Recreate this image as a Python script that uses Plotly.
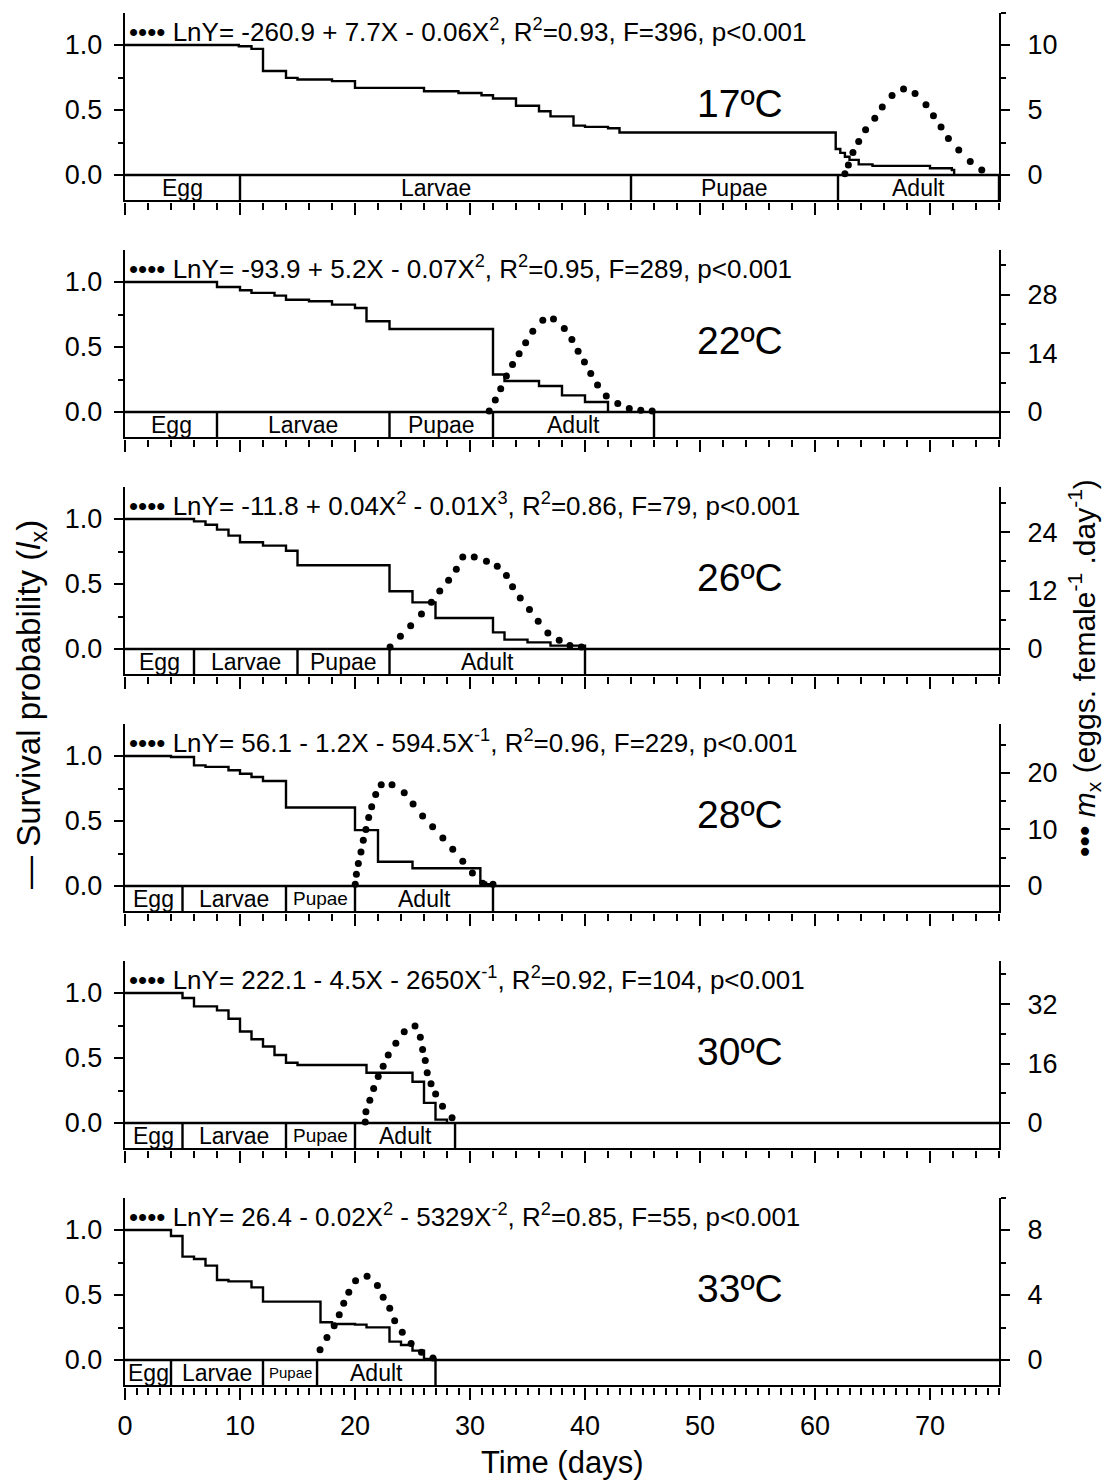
import plotly.graph_objects as go

# ---------------- data ----------------
temps = ["17ºC", "22ºC", "26ºC", "28ºC", "30ºC", "33ºC"]
equations = [
    "LnY= -260.9 + 7.7X - 0.06X<sup>2</sup>, R<sup>2</sup>=0.93, F=396, p&lt;0.001",
    "LnY= -93.9 + 5.2X - 0.07X<sup>2</sup>, R<sup>2</sup>=0.95, F=289, p&lt;0.001",
    "LnY= -11.8 + 0.04X<sup>2</sup> - 0.01X<sup>3</sup>, R<sup>2</sup>=0.86, F=79, p&lt;0.001",
    "LnY= 56.1 - 1.2X - 594.5X<sup>-1</sup>, R<sup>2</sup>=0.96, F=229, p&lt;0.001",
    "LnY= 222.1 - 4.5X - 2650X<sup>-1</sup>, R<sup>2</sup>=0.92, F=104, p&lt;0.001",
    "LnY= 26.4 - 0.02X<sup>2</sup> - 5329X<sup>-2</sup>, R<sup>2</sup>=0.85, F=55, p&lt;0.001",
]
stage_names = ["Egg", "Larvae", "Pupae", "Adult"]

# survival (lx) step curves
lx_days_17 = [0, 9.9, 11, 12, 14, 15, 18, 20, 26, 29, 31, 32, 34, 36, 37, 39, 40, 42, 43, 61.8, 62.2, 62.6, 63, 63.8, 65, 70, 71.9, 72.1]
lx_17 = [1.0, 0.99, 0.97, 0.80, 0.747, 0.735, 0.722, 0.67, 0.644, 0.631, 0.613, 0.588, 0.533, 0.49, 0.451, 0.38, 0.37, 0.36, 0.327, 0.2, 0.17, 0.14, 0.116, 0.082, 0.07, 0.052, 0.039, 0.0]
lx_days_22 = [0, 8, 10, 11, 13, 14, 16, 18, 20, 21, 23, 32, 33, 36, 38, 40, 42]
lx_22 = [1.0, 0.962, 0.936, 0.916, 0.895, 0.864, 0.852, 0.826, 0.8, 0.698, 0.639, 0.289, 0.238, 0.2, 0.128, 0.077, 0.0]
lx_days_26 = [0, 6, 7, 8, 9, 10, 12, 14, 15, 23, 25, 27, 32, 33, 35, 37, 40]
lx_26 = [1.0, 0.982, 0.956, 0.918, 0.872, 0.821, 0.795, 0.756, 0.644, 0.444, 0.359, 0.238, 0.128, 0.072, 0.051, 0.026, 0.0]
lx_days_28 = [0, 4, 6, 7, 9, 10, 11, 12, 14, 20, 22, 25, 30.9, 31.4, 32]
lx_28 = [1.0, 0.992, 0.928, 0.916, 0.89, 0.864, 0.839, 0.808, 0.604, 0.43, 0.187, 0.136, 0.026, 0.013, 0.0]
lx_days_30 = [0, 5, 6, 8, 9, 10, 11, 12, 13, 14, 15, 21, 25, 26, 27, 28]
lx_30 = [1.0, 0.961, 0.897, 0.866, 0.802, 0.704, 0.644, 0.588, 0.523, 0.464, 0.446, 0.387, 0.317, 0.155, 0.026, 0.0]
lx_days_33 = [0, 4, 5, 6, 7, 8, 9, 11, 12, 17, 18, 20, 21, 23, 24, 25, 26, 27]
lx_33 = [1.0, 0.954, 0.795, 0.777, 0.726, 0.615, 0.605, 0.559, 0.449, 0.29, 0.277, 0.272, 0.251, 0.141, 0.115, 0.072, 0.008, 0.0]

# fecundity (mx) dotted curves
mx_days_17 = [62.6, 62.9, 63.3, 63.8, 64.4, 65.2, 65.85, 66.7, 67.7, 68.7, 69.65, 70.3, 70.96, 71.6, 72.5, 73.5, 74.5]
mx_17 = [0.1, 0.77, 1.73, 2.58, 3.48, 4.36, 5.23, 6.11, 6.62, 6.26, 5.41, 4.56, 3.69, 2.81, 1.93, 1.03, 0.39]
mx_days_22 = [31.67, 32.2, 32.67, 33.17, 33.7, 34.27, 34.84, 35.46, 36.33, 37.26, 38.2, 38.86, 39.4, 39.95, 40.5, 41.09, 41.85, 42.85, 43.85, 44.85, 45.84]
mx_22 = [0.25, 2.85, 5.55, 8.56, 11.35, 13.89, 16.49, 19.25, 21.89, 22.2, 19.9, 17.3, 14.51, 11.9, 9.21, 6.42, 3.81, 2.05, 0.81, 0.4, 0.25]
mx_days_26 = [23.05, 23.95, 24.84, 25.78, 26.64, 27.37, 28.14, 28.81, 29.37, 30.37, 31.43, 32.37, 33.17, 33.7, 34.37, 35.17, 35.93, 36.77, 37.76, 38.69, 39.69]
mx_26 = [0.4, 2.6, 4.8, 7.2, 9.6, 11.9, 14.1, 16.4, 18.9, 18.9, 18.0, 17.0, 15.1, 12.8, 10.5, 8.1, 5.7, 3.3, 1.8, 0.7, 0.4]
mx_days_28 = [20.02, 20.12, 20.29, 20.52, 20.72, 20.95, 21.19, 21.45, 21.8, 22.28, 23.22, 24.28, 25.05, 25.88, 26.75, 27.64, 28.5, 29.37, 30.21, 31.1, 32.0]
mx_28 = [0.3, 2.1, 4.0, 6.0, 8.1, 10.0, 12.1, 14.0, 16.2, 17.9, 17.9, 16.5, 14.5, 12.4, 10.5, 8.5, 6.5, 4.4, 2.3, 0.5, 0.3]
mx_days_30 = [20.89, 20.95, 21.29, 21.62, 22.02, 22.45, 22.89, 23.55, 24.28, 25.22, 25.68, 25.88, 26.11, 26.28, 26.61, 27.01, 27.61, 28.44]
mx_30 = [0.3, 3.0, 6.1, 9.3, 12.5, 15.3, 18.3, 21.5, 24.6, 26.1, 23.1, 19.8, 16.8, 13.5, 10.6, 7.8, 4.5, 1.4]
mx_days_33 = [16.96, 17.56, 18.19, 18.63, 19.02, 19.46, 20.05, 21.05, 21.95, 22.45, 23.02, 23.45, 24.11, 24.88, 25.78, 26.78]
mx_33 = [0.63, 1.39, 2.11, 2.79, 3.49, 4.17, 4.88, 5.15, 4.58, 3.86, 3.18, 2.42, 1.70, 1.02, 0.47, 0.12]

# stage boundaries (days): Egg | Larvae | Pupae | Adult
stages_17 = [0, 10, 44, 62, 76]
stages_22 = [0, 8, 23, 32, 46]
stages_26 = [0, 6, 15, 23, 40]
stages_28 = [0, 5, 14, 20, 32]
stages_30 = [0, 5, 14, 20, 28.7]
stages_33 = [0, 4, 12, 16.7, 27]

# right-axis (mx) tick values and mx units per unit of lx
mx_ticks_17 = [0, 5, 10]
mx_ticks_22 = [0, 14, 28]
mx_ticks_26 = [0, 12, 24]
mx_ticks_28 = [0, 10, 20]
mx_ticks_30 = [0, 16, 32]
mx_ticks_33 = [0, 4, 8]
mx_per_lx = [10, 31, 26.7, 23, 35, 8]

lx_ticks = [0, 0.5, 1.0]
lx_ticktext = ["0.0", "0.5", "1.0"]
time_ticks = [0, 10, 20, 30, 40, 50, 60, 70]

panels = [
    (lx_days_17, lx_17, mx_days_17, mx_17, stages_17, mx_ticks_17),
    (lx_days_22, lx_22, mx_days_22, mx_22, stages_22, mx_ticks_22),
    (lx_days_26, lx_26, mx_days_26, mx_26, stages_26, mx_ticks_26),
    (lx_days_28, lx_28, mx_days_28, mx_28, stages_28, mx_ticks_28),
    (lx_days_30, lx_30, mx_days_30, mx_30, stages_30, mx_ticks_30),
    (lx_days_33, lx_33, mx_days_33, mx_33, stages_33, mx_ticks_33),
]

# ---------------- styling / layout ----------------
W, H = 1105, 1481
ML, MR, MT, MB = 125, 106, 12, 95
PW = W - ML - MR
PH = H - MT - MB
FONT = "Liberation Sans, Arial, sans-serif"
LX_LO, LX_HI = -0.195, 1.25
PX_PER_LX = 130
ZERO_PX0, PANEL_STEP = 175, 237
X_MAX = 76
TICK_FS = 27
stage_font = [
    [23, 23, 23, 23],
    [23, 23, 23, 23],
    [23, 23, 23, 23],
    [23, 23, 19, 23],
    [23, 23, 19, 23],
    [23, 23, 15, 23],
]
LW = 2.4


def frac(py):
    return 1 - (py - MT) / PH


def dom_frac(py):
    return min(1.0, max(0.0, frac(py)))


fig = go.Figure()
layout = dict(
    width=W, height=H,
    margin=dict(l=ML, r=MR, t=MT, b=MB, pad=0),
    paper_bgcolor="white", plot_bgcolor="white",
    showlegend=False,
    font=dict(family=FONT, size=TICK_FS, color="black"),
)
shapes, annotations = [], []

for i, (ld, lv, md, mv, st, mt) in enumerate(panels):
    xn = "" if i == 0 else str(i + 1)
    yl = str(2 * i + 1) if i > 0 else ""
    yr = str(2 * i + 2)
    xref, ylref, yrref = "x" + xn, "y" + yl, "y" + yr
    s = mx_per_lx[i]
    zero_px = ZERO_PX0 + PANEL_STEP * i
    top_px = zero_px - LX_HI * PX_PER_LX
    bot_px = zero_px - LX_LO * PX_PER_LX
    dom = [dom_frac(bot_px), dom_frac(top_px)]

    fig.add_trace(go.Scatter(x=ld, y=lv, mode="lines", line=dict(shape="hv", color="black", width=LW),
                             xaxis=xref, yaxis=ylref, hoverinfo="skip"))
    fig.add_trace(go.Scatter(x=md, y=mv, mode="markers", marker=dict(size=7, color="black"),
                             xaxis=xref, yaxis=yrref, hoverinfo="skip"))

    last = i == len(panels) - 1
    layout["xaxis" + xn] = dict(
        domain=[0, 1], range=[0, X_MAX], anchor=ylref, showgrid=False, zeroline=False,
        showline=True, linecolor="black", linewidth=LW,
        ticks="outside", ticklen=12, tickwidth=2, tickcolor="black",
        tickvals=time_ticks, showticklabels=last, tickfont=dict(size=TICK_FS), ticklabelstandoff=3,
        minor=dict(dtick=1 if last else 2, tick0=0, ticks="outside", ticklen=7, tickwidth=2, tickcolor="black"),
    )
    layout["yaxis" + yl] = dict(
        domain=dom, range=[LX_LO, LX_HI], anchor=xref, showgrid=False, zeroline=False,
        showline=True, linecolor="black", linewidth=LW,
        ticks="outside", ticklen=9, tickwidth=2, tickcolor="black",
        tickvals=lx_ticks, ticktext=lx_ticktext, tickfont=dict(size=TICK_FS), ticklabelstandoff=6,
        minor=dict(tickvals=[0.25, 0.75], ticks="outside", ticklen=5, tickwidth=2, tickcolor="black"),
    )
    step = mt[1] - mt[0]
    layout["yaxis" + yr] = dict(
        overlaying=ylref, side="right", anchor=xref,
        range=[LX_LO * s, LX_HI * s], showgrid=False, zeroline=False,
        showline=True, linecolor="black", linewidth=LW,
        ticks="outside", ticklen=9, tickwidth=2, tickcolor="black",
        tickvals=mt, tickfont=dict(size=TICK_FS), ticklabelstandoff=12,
        minor=dict(tickvals=[v + step / 2 for v in mt], ticks="outside", ticklen=5, tickwidth=2, tickcolor="black"),
    )

    # y = 0 baseline across the panel (top edge of the stage strip)
    shapes.append(dict(type="line", xref=xref, yref=ylref, x0=0, x1=X_MAX, y0=0, y1=0,
                       line=dict(color="black", width=LW)))
    # stage boxes
    for b in st[1:]:
        shapes.append(dict(type="line", xref=xref, yref=ylref, x0=b, x1=b, y0=LX_LO, y1=0,
                           line=dict(color="black", width=LW)))
    for k, name in enumerate(stage_names):
        annotations.append(dict(x=(st[k] + st[k + 1]) / 2, y=LX_LO / 2, xref=xref, yref=ylref,
                                text=name, showarrow=False, xanchor="center", yanchor="middle",
                                font=dict(size=stage_font[i][k])))
    # equation
    annotations.append(dict(x=0.2, y=1.11, xref=xref, yref=ylref, text="•••• " + equations[i],
                            showarrow=False, xanchor="left", yanchor="middle", font=dict(size=26)))
    # temperature
    annotations.append(dict(x=53.5, y=0.55, xref=xref, yref=ylref, text=temps[i],
                            showarrow=False, xanchor="center", yanchor="middle", font=dict(size=39)))

annotations.append(dict(x=(562 - ML) / PW, y=frac(1463), xref="paper", yref="paper",
                        text="Time (days)", showarrow=False, xanchor="center", yanchor="middle",
                        font=dict(size=31)))
annotations.append(dict(x=(31 - ML) / PW, y=frac(705), xref="paper", yref="paper",
                        text="— Survival probability (<i>l</i><sub>x</sub>)", textangle=-90,
                        showarrow=False, xanchor="center", yanchor="middle", font=dict(size=33)))
annotations.append(dict(x=(1084 - ML) / PW, y=frac(668), xref="paper", yref="paper",
                        text="••• <i>m</i><sub>x</sub> (eggs. female<sup>-1</sup> .day<sup>-1</sup>)", textangle=-90,
                        showarrow=False, xanchor="center", yanchor="middle", font=dict(size=30)))

layout["shapes"] = shapes
layout["annotations"] = annotations
fig.update_layout(**layout)
fig.write_html("out.html", config={"displayModeBar": False},
               post_script="document.body.style.margin='0';")
